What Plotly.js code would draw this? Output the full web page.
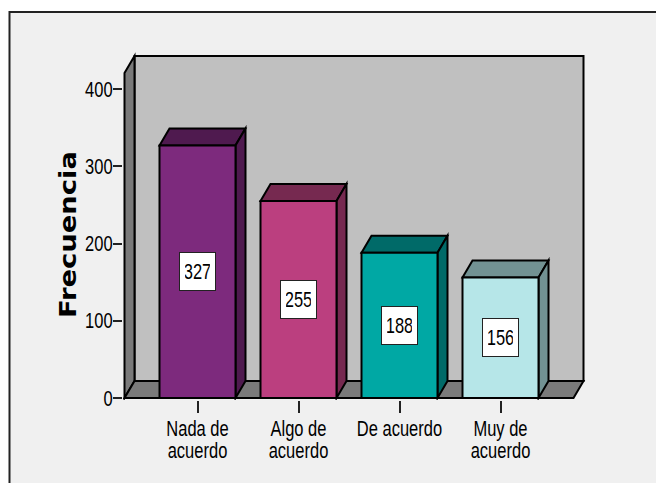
<!DOCTYPE html>
<html><head><meta charset="utf-8">
<script src="https://cdn.plot.ly/plotly-3.0.1.min.js"></script>
<style>html,body{margin:0;padding:0;background:#fff}#c{width:656px;height:483px}</style></head>
<body><div id="c"></div>
<script>
const categories = ["Nada de<br>acuerdo","Algo de<br>acuerdo","De acuerdo","Muy de<br>acuerdo"];
const values = [327,255,188,156];
const frontColors = ["#7d2a7d","#bb3f7f","#00a8a4","#b6e6e8"];
const topColors = ["#4f1a4f","#762950","#006a68","#729293"];
const tickVals = [0,100,200,300,400];

// pixel scale of the plot
const L=123,R=586,T=52,B=400, x0Px=197.5, stepPx=101, zeroPx=398, unitPx=0.7725;
const dxPx=10, dyPx=17, barPx=76, wallL=124.5, wallR=573.5;
const xr=[(L-x0Px)/stepPx,(R-x0Px)/stepPx];
const yr=[(zeroPx-B)/unitPx,(zeroPx-T)/unitPx];
const dx=dxPx/stepPx, dy=dyPx/unitPx, hw=barPx/2/stepPx;
const wl=(wallL-x0Px)/stepPx, wr=(wallR-x0Px)/stepPx, wallTop=(zeroPx-73)/unitPx;
const poly=(pts,fill,w=2)=>({type:'path',xref:'x',yref:'y',layer:'below',
  path:'M'+pts.map(p=>p[0]+','+p[1]).join('L')+'Z',fillcolor:fill,line:{color:'#000',width:w}});
const fx=p=>(p-L)/(R-L), fy=p=>(B-p)/(B-T);
const shapes=[
  {type:'rect',xref:'paper',yref:'paper',layer:'below',x0:fx(9.5),x1:fx(670),y0:fy(495),y1:fy(12),
   fillcolor:'#f0f0f0',line:{color:'#222',width:2}},
  poly([[wl+dx,dy],[wr+dx,dy],[wr+dx,wallTop+dy],[wl+dx,wallTop+dy]],'#c0c0c0'),
  poly([[wl,0],[wl+dx,dy],[wl+dx,wallTop+dy],[wl,wallTop]],'#7a7a7a'),
  poly([[wl,0],[wr,0],[wr+dx,dy],[wl+dx,dy]],'#7a7a7a')
];
values.forEach((v,i)=>{
  shapes.push(poly([[i-hw,v],[i+hw,v],[i+hw+dx,v+dy],[i-hw+dx,v+dy]],topColors[i]));
  shapes.push(poly([[i+hw,0],[i+hw+dx,dy],[i+hw+dx,v+dy],[i+hw,v]],topColors[i]));
});
const font='"Liberation Sans",sans-serif';
const fs=22, narrow=0.75;
const annotations=values.map((v,i)=>({x:i,y:v/2,text:String(v),showarrow:false,xref:'x',yref:'y',
  font:{family:font,size:fs,color:'#000'},
  bgcolor:'#fff',bordercolor:'#222',borderwidth:1,width:33,height:35,align:'center',valign:'middle'}));
const data=[{type:'bar',x:[0,1,2,3],y:values,width:barPx/stepPx,
  marker:{color:frontColors,line:{color:'#000',width:2}},hoverinfo:'none',cliponaxis:false}];
const layout={width:656,height:483,autosize:false,showlegend:false,
  margin:{l:L,r:656-R,t:T,b:483-B,pad:0},
  paper_bgcolor:'#fff',plot_bgcolor:'rgba(0,0,0,0)',
  xaxis:{range:xr,tickmode:'array',tickvals:[0,1,2,3],ticktext:categories,showgrid:false,zeroline:false,showline:false,
    ticks:'outside',ticklen:12,tickwidth:2,tickcolor:'#222',tickfont:{family:font,size:fs,color:'#000'}},
  yaxis:{range:yr,tickmode:'array',tickvals:tickVals,ticktext:tickVals.map(String),showgrid:false,zeroline:false,showline:false,
    ticks:'outside',ticklen:9,tickwidth:2,tickcolor:'#222',tickfont:{family:font,size:fs,color:'#000'},
    title:{text:'Frecuencia',standoff:14,font:{family:'"DejaVu Sans",sans-serif',size:23,weight:700,color:'#000'}}},
  shapes:shapes,annotations:annotations};
Plotly.newPlot('c',data,layout,{displayModeBar:false,staticPlot:true}).then(gd=>{
  // condense a label horizontally about a fixed local x, with an optional pixel shift
  const squeeze=(t,cx,sx=0,sy=0)=>{
    const old=t.getAttribute('transform')||'';
    t.setAttribute('transform',`translate(${sx},${sy}) `+old+` translate(${cx},0) scale(${narrow},1) translate(${-cx},0)`);
  };
  gd.querySelectorAll('.xtick text').forEach(t=>{
    const bb=t.getBBox();
    squeeze(t,bb.x+bb.width/2,0,-3);
    const lines=t.querySelectorAll('tspan.line');
    if(lines.length>1){lines[1].setAttribute('dy','22px');}
  });
  gd.querySelectorAll('.ytick text').forEach(t=>{const bb=t.getBBox();squeeze(t,bb.x+bb.width,4,0);});
  gd.querySelectorAll('.annotation-text').forEach(t=>{const bb=t.getBBox();squeeze(t,bb.x+bb.width/2);});
  const title=gd.querySelector('.ytitle');
  if(title){
    const tx=76, ty=234.5;
    title.setAttribute('x',tx);title.setAttribute('y',ty);
    title.setAttribute('transform',`rotate(-90,${tx},${ty}) translate(${tx},${ty}) scale(1.19,1) translate(${-tx},${-ty})`);
  }
});
</script></body></html>
